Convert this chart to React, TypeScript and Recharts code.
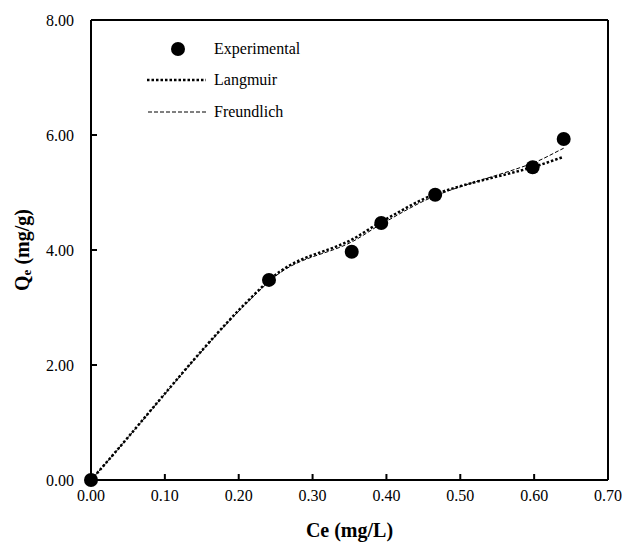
import React from "react";
import {
    ComposedChart,
    Line,
    Scatter,
    XAxis,
    YAxis,
    ReferenceLine
} from "recharts";

const ce = [0, 0.241, 0.353, 0.393, 0.466, 0.598, 0.640];
const experimental = [0, 3.48, 3.97, 4.47, 4.96, 5.44, 5.93];
const langmuir = [0, 3.47, 4.18, 4.49, 4.97, 5.44, 5.62];
const freundlich = [0, 3.45, 4.14, 4.45, 4.94, 5.51, 5.77];

const xTicks = [0, 0.1, 0.2, 0.3, 0.4, 0.5, 0.6, 0.7];
const yTicks = [0, 2, 4, 6, 8];

const data = ce.map((x, i) => ({
    ce: x,
    exp: experimental[i],
    lang: langmuir[i],
    freund: freundlich[i]
}));

const FONT = "'Liberation Serif', 'Times New Roman', serif";

// smoothed line like Excel: cubic hermite, slopes from neighbouring points
function smoothCurve(context: any) {
    let pts: [number, number][] = [];
    return {
        areaStart() {},
        areaEnd() {},
        lineStart() {
            pts = [];
        },
        lineEnd() {
            const n = pts.length;
            if (!n) return;
            const slope = (i: number) => {
                const a = pts[Math.max(i - 1, 0)];
                const b = pts[Math.min(i + 1, n - 1)];
                return (b[1] - a[1]) / (b[0] - a[0] || 1);
            };
            context.moveTo(pts[0][0], pts[0][1]);
            for (let i = 0; i < n - 1; i++) {
                const p1 = pts[i];
                const p2 = pts[i + 1];
                const h = (p2[0] - p1[0]) / 3;
                context.bezierCurveTo(
                    p1[0] + h,
                    p1[1] + slope(i) * h,
                    p2[0] - h,
                    p2[1] - slope(i + 1) * h,
                    p2[0],
                    p2[1]
                );
            }
        },
        point(x: number, y: number) {
            pts.push([+x, +y]);
        }
    };
}

// legend sits inside the plot, top-left
function LegendBox() {
    const rows = [
        { name: "Experimental", kind: "dot" },
        { name: "Langmuir", kind: "dotted" },
        { name: "Freundlich", kind: "dashed" }
    ];
    return (
        <div style={{ position: "absolute", left: 147, top: 33, fontFamily: FONT, fontSize: 16, color: "#000" }}>
            {rows.map((r) => (
                <div key={r.name} style={{ display: "flex", alignItems: "center", height: 31.5 }}>
                    <svg width={60} height={16} style={{ marginRight: 7 }}>
                        {r.kind === "dot" && <circle cx={31} cy={8} r={7} fill="#000" />}
                        {r.kind === "dotted" && (
                            <line x1={0} y1={8} x2={59} y2={8} stroke="#000" strokeWidth={2.5} strokeDasharray="2.5 2" />
                        )}
                        {r.kind === "dashed" && (
                            <line x1={1} y1={8} x2={59} y2={8} stroke="#000" strokeWidth={1} strokeDasharray="4 2" />
                        )}
                    </svg>
                    <span>{r.name}</span>
                </div>
            ))}
        </div>
    );
}

export default function App() {
    return (
        <div style={{ position: "absolute", left: 0, top: 0, width: 622, height: 545, background: "#fff" }}>
            <ComposedChart
                width={622}
                height={545}
                data={data}
                margin={{ top: 20, right: 14, bottom: 0, left: 0 }}
            >
                <XAxis
                    dataKey="ce"
                    type="number"
                    domain={[0, 0.7]}
                    ticks={xTicks}
                    tickFormatter={(v: number) => v.toFixed(2)}
                    height={65}
                    tickSize={-6}
                    tickMargin={16}
                    axisLine={{ stroke: "#000", strokeWidth: 2 }}
                    tickLine={{ stroke: "#000", strokeWidth: 2 }}
                    tick={{ fill: "#000", fontFamily: FONT, fontSize: 16 }}
                    label={{
                        value: "Ce (mg/L)",
                        position: "insideBottom",
                        offset: 8,
                        fill: "#000",
                        fontFamily: FONT,
                        fontSize: 20,
                        fontWeight: "bold"
                    }}
                />
                <YAxis
                    type="number"
                    domain={[0, 8]}
                    ticks={yTicks}
                    tickFormatter={(v: number) => v.toFixed(2)}
                    width={91}
                    tickSize={-6}
                    tickMargin={23}
                    axisLine={{ stroke: "#000", strokeWidth: 2 }}
                    tickLine={{ stroke: "#000", strokeWidth: 2 }}
                    tick={{ fill: "#000", fontFamily: FONT, fontSize: 16 }}
                    label={{
                        content: () => (
                            <text
                                x={22}
                                y={250}
                                transform="rotate(-90 22 250)"
                                textAnchor="middle"
                                dominantBaseline="central"
                                fill="#000"
                                fontFamily={FONT}
                                fontSize={20}
                                fontWeight="bold"
                            >
                                Q<tspan fontSize={13} dy={4}>e</tspan>
                                <tspan dy={-4}> (mg/g)</tspan>
                            </text>
                        )
                    }}
                />
                <ReferenceLine y={8} stroke="#000" strokeWidth={2} />
                <ReferenceLine x={0.7} stroke="#000" strokeWidth={2} />
                <Line
                    dataKey="lang"
                    type={smoothCurve as any}
                    stroke="#000"
                    strokeWidth={2.5}
                    strokeDasharray="2.5 2"
                    dot={false}
                    isAnimationActive={false}
                />
                <Line
                    dataKey="freund"
                    type={smoothCurve as any}
                    stroke="#000"
                    strokeWidth={1}
                    strokeDasharray="4 2"
                    dot={false}
                    isAnimationActive={false}
                />
                <Scatter
                    dataKey="exp"
                    fill="#000"
                    shape={(p: any) => <circle cx={p.cx} cy={p.cy} r={7} fill="#000" />}
                    isAnimationActive={false}
                />
            </ComposedChart>
            <LegendBox />
        </div>
    );
}
